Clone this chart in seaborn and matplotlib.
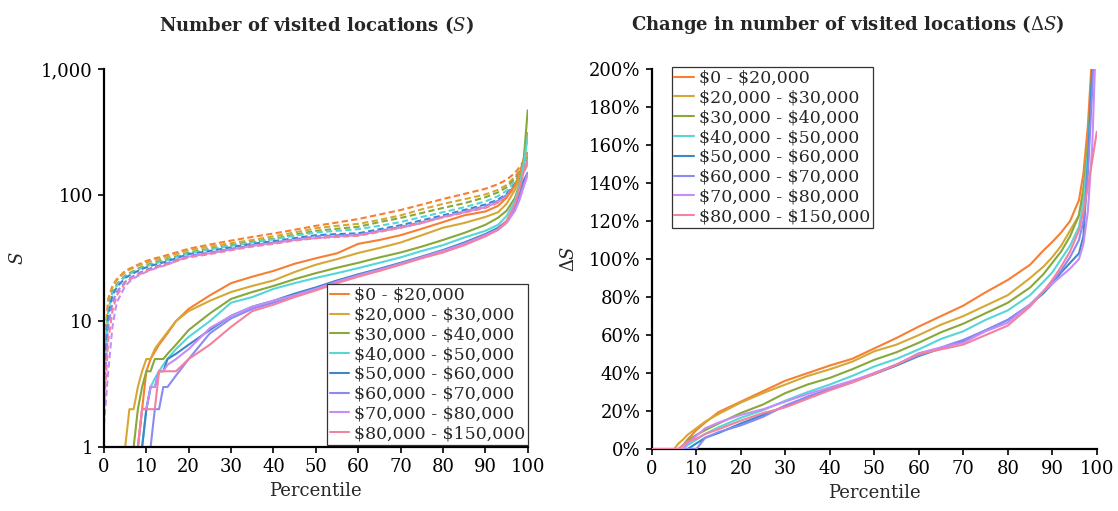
import numpy as np
import pandas as pd
import matplotlib
matplotlib.use("Agg")
import matplotlib.pyplot as plt
import seaborn as sns
from matplotlib.ticker import FixedLocator, FixedFormatter
from matplotlib.lines import Line2D

# ---------------- data ----------------
groups = ["$0 - $20,000", "$20,000 - $30,000", "$30,000 - $40,000", "$40,000 - $50,000",
          "$50,000 - $60,000", "$60,000 - $70,000", "$70,000 - $80,000", "$80,000 - $150,000"]
colors = ["#F77F33", "#D6A735", "#88A83A", "#55D6D8", "#3B87C8", "#8A8AF5", "#C98BF6", "#F4819E"]

nan = np.nan
pct_left = [0, 1, 2, 3, 5, 6, 7, 8, 9, 10, 11, 12, 13, 14, 15, 17, 20, 25, 30, 35, 40, 45,
            50, 55, 60, 65, 70, 75, 80, 85, 90, 93, 95, 97, 98, 99, 100]

# S (solid)
s_0_20 = [nan, nan, nan, nan, nan, nan, nan, 1, 2, 4, 5, 5.7, 6.5, 7.2, 8, 10, 12.5, 16, 20, 22.5, 25, 28.5,
          31.5, 34.5, 41, 44, 48, 54, 61, 69, 74, 82, 95, 120, 145, 190, 310]
s_20_30 = [nan, nan, nan, nan, 1, 2, 2, 3, 4, 5, 5, 6, 6.7, 7.4, 8.2, 10, 12, 14.5, 17, 19, 21, 24.5,
           28, 31, 34.7, 38, 42, 48, 55, 60, 67, 73, 85, 110, 135, 180, 300]
s_30_40 = [nan, nan, nan, nan, nan, nan, 1, 2, 3, 4, 4, 5, 5, 5, 5.5, 6.5, 8.5, 11.5, 15, 17, 19, 21.5,
           24, 26.5, 29, 32, 35, 39, 44, 50, 58, 66, 75, 95, 120, 180, 470]
s_40_50 = [nan, nan, nan, nan, nan, nan, nan, nan, 1, 2, 3, 3.5, 4, 4.5, 5, 6, 7.5, 10, 14, 15.5, 18, 20,
           22, 24, 26.3, 29, 32, 36, 40, 46, 52, 58, 68, 90, 115, 170, 290]
s_50_60 = [nan, nan, nan, nan, nan, nan, nan, nan, 1, 2, 3, 3, 4, 4, 5, 5.5, 6.5, 8.5, 11, 13, 14.5, 16.5,
           18.5, 21, 23.5, 26, 29, 32.5, 36.6, 42, 49, 55, 62, 80, 100, 130, 150]
s_60_70 = [nan, nan, nan, nan, nan, nan, nan, nan, nan, nan, 1, 2, 2, 3, 3, 3.7, 5, 8, 10.5, 12.5, 14, 16,
           18, 20.5, 23, 25.5, 28.5, 32, 36, 41, 48, 54, 61, 78, 95, 120, 150]
s_70_80 = [nan, nan, nan, nan, nan, nan, nan, 1, 2, 2, 3, 3, 4, 4, 4.5, 5, 6, 8.8, 11, 13, 14.5, 16,
           18, 20.5, 23, 25.5, 28.5, 32, 36, 41, 48, 53, 60, 75, 90, 115, 145]
s_80_150 = [nan, nan, nan, nan, nan, nan, nan, 1, 2, 2, 2, 2, 4, 4, 4, 4, 5, 6.5, 9, 12, 13.5, 15.5,
            17.5, 20, 22.5, 25, 28, 31.5, 35, 40, 47, 53, 62, 85, 110, 150, 190]

# dashed series
d_0_20 = [6, 15, 19, 21.5, 25, 26, 27, 28, 29, 30, 30.7, 31.5, 32, 32.7, 33.5, 35, 37.5, 40.5, 43.5, 46.5,
          49.5, 53, 57, 60.5, 64.5, 70, 76, 84, 93, 102, 112, 122, 132, 150, 165, 185, 220]
d_20_30 = [5, 14, 18.5, 21, 24.5, 25.5, 26.5, 27.5, 28.3, 29, 29.8, 30.5, 31, 31.7, 32.3, 34, 36.5, 39, 41.5,
           44, 47, 50.5, 54.5, 57, 59, 63.5, 69, 77, 85, 92.5, 101, 110, 120, 140, 155, 175, 210]
d_30_40 = [4, 12, 17, 19.5, 23, 24, 25, 26, 27, 27.8, 28.5, 29.2, 29.8, 30.4, 31, 32.5, 35, 37.5, 40, 42.5,
           45, 48.5, 52, 54, 56, 61, 65.8, 72, 79, 86, 96, 105, 115, 135, 150, 170, 200]
d_40_50 = [4, 12, 16.5, 19, 22.5, 23.5, 24.5, 25.5, 26.4, 27.2, 28, 28.6, 29.2, 29.8, 30.4, 32, 34.5, 37,
           39.5, 42, 44.5, 47.5, 50.5, 52, 53.6, 57, 61, 67, 73, 80, 89, 98, 108, 128, 145, 165, 195]
d_50_60 = [3.5, 11, 16, 18.5, 22, 23, 24, 25, 25.9, 26.7, 27.4, 28, 28.6, 29.2, 29.8, 31.5, 34, 36, 38.5,
           41, 43, 45.5, 48, 49, 49.7, 53.5, 57.6, 63, 69, 76, 84, 92, 102, 122, 140, 160, 190]
d_60_70 = [2.5, 9, 14, 17, 20.5, 21.8, 22.8, 23.8, 24.7, 25.5, 26.3, 27, 27.6, 28.2, 28.8, 30.5, 33, 35,
           37.5, 40, 42, 44.5, 47, 48, 48.5, 52, 56, 61, 67, 74, 82, 90, 100, 120, 138, 158, 185]
d_70_80 = [1.5, 4, 9, 14, 19, 20.5, 21.8, 22.8, 23.7, 24.6, 25.4, 26.1, 26.8, 27.4, 28, 30, 32.5, 34.5,
           37, 39.5, 41.5, 44, 45.5, 47, 48, 51.5, 55, 60, 67, 73, 80, 88, 98, 118, 135, 155, 180]
d_80_150 = [2, 7, 12, 16, 20, 21.2, 22.3, 23.2, 24, 24.8, 25.6, 26.3, 27, 27.6, 28.2, 29.8, 32, 34, 36.5,
            39, 41, 43.5, 45.5, 46.5, 47.5, 51, 55, 60, 66.5, 72.5, 79, 87, 96, 115, 132, 150, 175]

# Delta S (%)
pct_right = [0, 5, 6, 7, 8, 10, 12, 15, 20, 25, 30, 35, 40, 45, 50, 55, 60, 65, 70, 75, 80, 85, 88,
             90, 92, 94, 96, 97, 98, 99, 100]
ds_0_20 = [0, 0, 0, 2, 5, 10, 14, 19.5, 25, 30.5, 36, 40, 44, 47.5, 53, 58.5, 64.5, 70, 75.5, 82.5, 89,
           97, 104.5, 109, 114, 120, 131, 145, 170, 210, 260]
ds_20_30 = [0, 0, 3, 5, 7.5, 11, 14.5, 18.5, 24.5, 29.5, 34, 38.5, 42, 46, 51.5, 55, 60, 65.5, 70, 75.5,
            81, 90, 96, 101, 107, 115, 123, 138, 160, 195, 260]
ds_30_40 = [0, 0, 0, 2, 4.5, 7.5, 10, 13.5, 19, 23.5, 29.5, 34, 37.5, 42, 47, 51, 56, 61.5, 66, 71.5, 77,
            85, 92, 98, 104, 112, 123, 135, 160, 200, 260]
ds_40_50 = [0, 0, 0, 0, 2, 5, 8, 11.5, 16.5, 20.5, 25.5, 30, 34, 38.5, 43.5, 47.5, 52.5, 58, 62, 68, 73,
            81, 88, 93, 100, 107, 117, 130, 155, 195, 260]
ds_50_60 = [0, 0, 0, 0, 0, 3, 6, 8.5, 13.5, 18, 22.5, 27.5, 31.5, 35.5, 39.5, 44, 49, 53, 57, 62.5, 68,
            76, 82, 87, 93, 98, 103, 112, 150, 200, 260]
ds_60_70 = [0, 0, 0, 0, 0, 0, 6, 9, 12.5, 17, 23, 27.5, 31.5, 35.5, 40, 44.5, 49.5, 53.5, 57.5, 62.5, 68,
            76, 83, 88, 94, 101, 110, 120, 145, 190, 260]
ds_70_80 = [0, 0, 0, 0, 3, 7, 11, 14, 18, 21, 25, 29, 32.5, 36, 40, 44.5, 50.5, 53.5, 56, 62, 66.5, 76,
            83, 87, 91, 95, 100, 108, 125, 160, 230]
ds_80_150 = [0, 0, 0, 2, 4, 5.5, 8, 10.5, 15, 19, 22, 26.5, 31, 35, 39.5, 44.5, 50, 52.5, 55, 60, 65, 75,
             83, 89, 96, 104, 115, 125, 138, 152, 167]

S_solid = [s_0_20, s_20_30, s_30_40, s_40_50, s_50_60, s_60_70, s_70_80, s_80_150]
S_dash = [d_0_20, d_20_30, d_30_40, d_40_50, d_50_60, d_60_70, d_70_80, d_80_150]
dS = [ds_0_20, ds_20_30, ds_30_40, ds_40_50, ds_50_60, ds_60_70, ds_70_80, ds_80_150]

# ---------------- style ----------------
sns.set_theme(style="ticks")
plt.rcParams["font.family"] = ["DejaVu Serif"]
plt.rcParams["mathtext.fontset"] = "dejavuserif"
plt.rcParams["axes.linewidth"] = 1.6
plt.rcParams["xtick.major.width"] = 1.2
plt.rcParams["ytick.major.width"] = 1.2
plt.rcParams["xtick.major.size"] = 4
plt.rcParams["ytick.major.size"] = 4
plt.rcParams["axes.edgecolor"] = "black"
plt.rcParams["xtick.color"] = "black"
plt.rcParams["ytick.color"] = "black"

fig = plt.figure(figsize=(11.18, 5.11), dpi=100)
axL = fig.add_axes([0.093, 0.125, 0.379, 0.740])
axR = fig.add_axes([0.583, 0.121, 0.398, 0.744])

lw = 1.5
handles = []
for name, col, ys, yd in zip(groups, colors, S_solid, S_dash):
    df_d = pd.DataFrame({"p": pct_left, "v": yd}).dropna()
    sns.lineplot(data=df_d, x="p", y="v", ax=axL, color=col, lw=lw, linestyle=(0, (3, 1.6)),
                 estimator=None, sort=False)
for name, col, ys, yd in zip(groups, colors, S_solid, S_dash):
    df_s = pd.DataFrame({"p": pct_left, "v": ys}).dropna()
    sns.lineplot(data=df_s, x="p", y="v", ax=axL, color=col, lw=lw, estimator=None, sort=False)
    handles.append(Line2D([0], [0], color=col, lw=lw, label=name.replace("$", r"\$")))

for name, col, yv in zip(groups, colors, dS):
    df_r = pd.DataFrame({"p": pct_right, "v": yv})
    sns.lineplot(data=df_r, x="p", y="v", ax=axR, color=col, lw=lw, estimator=None, sort=False,
                 zorder=3)

fs = 13
# left axis
axL.set_yscale("log")
axL.set_ylim(1, 1000)
axL.set_xlim(0, 100)
axL.yaxis.set_major_locator(FixedLocator([1, 10, 100, 1000]))
axL.yaxis.set_major_formatter(FixedFormatter(["1", "10", "100", "1,000"]))
axL.yaxis.set_minor_locator(FixedLocator([]))
axL.set_xticks(range(0, 101, 10))
axL.set_xlabel("Percentile", fontsize=fs)
axL.set_ylabel("$S$", fontsize=fs, labelpad=10)

# right axis
axR.set_ylim(0, 200)
axR.set_xlim(0, 100)
axR.set_yticks(range(0, 201, 20))
axR.set_yticklabels([f"{v}%" for v in range(0, 201, 20)])
axR.set_xticks(range(0, 101, 10))
axR.set_xlabel("Percentile", fontsize=fs)
axR.set_ylabel(r"$\Delta S$", fontsize=fs, labelpad=8)

fig.text(316 / 1118, 1 - 25 / 511, "Number of visited locations ($S$)", fontsize=fs,
         fontweight="bold", ha="center", va="center")
fig.text(848 / 1118, 1 - 25 / 511, r"Change in number of visited locations ($\Delta S$)", fontsize=fs,
         fontweight="bold", ha="center", va="center")

for ax in (axL, axR):
    sns.despine(ax=ax)
    ax.tick_params(labelsize=fs, direction="out", pad=4)

legkw = dict(fontsize=12.5, frameon=True, fancybox=False, borderpad=0.15, labelspacing=0.16,
             handlelength=1.1, handletextpad=0.3, borderaxespad=0.0)
lgL = axL.legend(handles=handles, loc="lower right", bbox_to_anchor=(1.0, 0.006), **legkw)
lgR = axR.legend(handles=handles, loc="upper left", bbox_to_anchor=(0.045, 1.005), **legkw)
for lg in (lgL, lgR):
    lg.get_frame().set_edgecolor("#333333")
    lg.get_frame().set_linewidth(0.9)
    lg.get_frame().set_alpha(1)

fig.savefig("out.png", dpi=100)
